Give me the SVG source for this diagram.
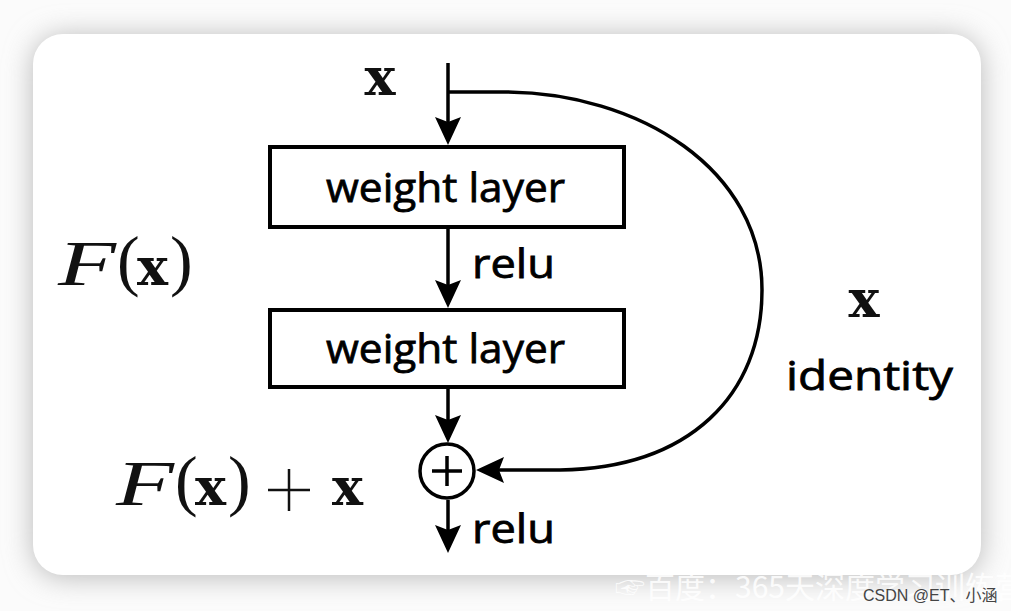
<svg xmlns="http://www.w3.org/2000/svg" width="1011" height="611" viewBox="0 0 1011 611">
  <defs>
    <filter id="shadow" x="-10%" y="-10%" width="120%" height="120%">
      <feGaussianBlur stdDeviation="14"/>
    </filter>
    <marker id="arrow" viewBox="-20 -15 35 30" refX="0" refY="0" markerWidth="35" markerHeight="30" markerUnits="userSpaceOnUse" orient="auto" overflow="visible">
      <path d="M10,0 L-18,-13 L-13,0 L-18,13 Z" fill="#000"/>
    </marker>
  </defs>
  <style>
    .conn { fill: none; stroke: #000; stroke-width: 3.5; }
    .box { fill: #fff; stroke: #000; stroke-width: 4; }
    .lbl { font-family: "Open Sans", "Liberation Sans", sans-serif; font-size: 41px; fill: #000; stroke: #000; stroke-width: 0.8px; }
    .bx { font-family: "DejaVu Serif", "Liberation Serif", serif; font-weight: bold; font-size: 52px; fill: #111; }
    .par { font-family: "Liberation Serif", serif; font-size: 68px; fill: #111; }
    .scr { font-family: "Liberation Serif", serif; font-style: italic; font-size: 64px; fill: #111; }
  </style>
  <rect x="0" y="0" width="1011" height="611" fill="#fbfbfb"/>
  <rect x="33" y="36" width="948" height="541" rx="30" fill="#b8b8b8" filter="url(#shadow)"/>
  <rect x="33" y="34" width="948" height="541" rx="30" fill="#ffffff"/>

  <g id="connectors">
    <path class="conn" d="M448,63 V135" marker-end="url(#arrow)"/>
    <path class="conn" d="M448,92 H503 C640,92 762,170 762,290 C762,395 690,468 560,470 H486" marker-end="url(#arrow)"/>
    <path class="conn" d="M448,229 V298" marker-end="url(#arrow)"/>
    <path class="conn" d="M448,389 V433" marker-end="url(#arrow)"/>
    <path class="conn" d="M448,500 V543" marker-end="url(#arrow)"/>
  </g>

  <g id="input-x">
    <text class="bx" x="380" y="95" text-anchor="middle">x</text>
  </g>

  <g id="weight-layer-1">
    <rect class="box" x="270" y="147" width="354" height="80"/>
    <text class="lbl" x="326" y="202" textLength="239" lengthAdjust="spacingAndGlyphs">weight layer</text>
  </g>

  <g id="relu-1">
    <text class="lbl" x="472" y="278" textLength="83" lengthAdjust="spacingAndGlyphs">relu</text>
  </g>

  <g id="weight-layer-2">
    <rect class="box" x="270" y="310" width="354" height="77"/>
    <text class="lbl" x="326" y="363" textLength="239" lengthAdjust="spacingAndGlyphs">weight layer</text>
  </g>

  <g id="sum">
    <circle cx="447" cy="471" r="27" fill="#fff" stroke="#000" stroke-width="3.5"/>
    <path d="M432,471 H462 M447,456 V486" stroke="#000" stroke-width="3.5" fill="none"/>
  </g>

  <g id="relu-2">
    <text class="lbl" x="472" y="543" textLength="83" lengthAdjust="spacingAndGlyphs">relu</text>
  </g>

  <g id="label-Fx">
    <text class="scr" x="58" y="285" textLength="58" lengthAdjust="spacingAndGlyphs">F</text>
    <text class="par" x="117" y="283">(</text>
    <text class="bx" x="137" y="285">x</text>
    <text class="par" x="170" y="283">)</text>
  </g>

  <g id="label-Fx-plus-x">
    <text class="scr" x="116" y="505" textLength="58" lengthAdjust="spacingAndGlyphs">F</text>
    <text class="par" x="175" y="503">(</text>
    <text class="bx" x="195" y="505">x</text>
    <text class="par" x="228" y="503">)</text>
    <path d="M268,490 H310 M289,469 V511" stroke="#111" stroke-width="2.5" fill="none"/>
    <text class="bx" x="332" y="505">x</text>
  </g>

  <g id="identity-label">
    <text class="bx" x="864" y="317" text-anchor="middle">x</text>
    <text class="lbl" x="786" y="390" textLength="167" lengthAdjust="spacingAndGlyphs">identity</text>
  </g>

  <g id="watermark">
    <text x="615" y="598" font-family="Noto Sans CJK SC, sans-serif" font-size="30" fill="#ffffff" fill-opacity="0.85">☞百度：365天深度学习训练营</text>
    <text x="863" y="601" font-family="Liberation Sans, Noto Sans CJK SC, sans-serif" font-size="16" fill="#444">CSDN @ET、小涵</text>
  </g>
</svg>
